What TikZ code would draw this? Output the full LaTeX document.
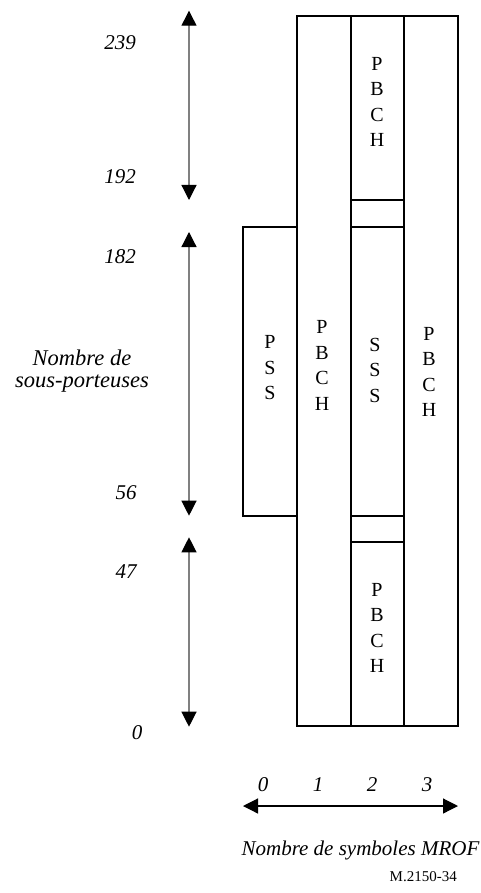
\documentclass[tikz,border=0pt]{standalone}
\usepackage{fontspec}
\setmainfont{Liberation Serif}
\usetikzlibrary{arrows.meta}

\begin{document}
\begin{tikzpicture}[x=1pt,y=-1pt,
  cell/.style={draw=black,line width=1.8pt,inner sep=0pt,outer sep=0pt,anchor=north west},
  tag/.style={font=\fontsize{20}{25.5}\selectfont,align=center,inner sep=0pt},
  val/.style={font=\fontsize{21}{22}\selectfont\itshape,align=center,inner sep=0pt},
  span/.style={draw=black!50,line width=1.2pt,{Triangle[length=15pt,width=15pt,color=black]}-{Triangle[length=15pt,width=15pt,color=black]}}]
\useasboundingbox (0,0) rectangle (481,893);
% cells of the four symbols
\node[cell,minimum width=54pt,minimum height=289pt] (pss) at (243,226.7) {};
\node[cell,minimum width=54pt,minimum height=710.3pt] (sym1) at (296.7,15.7) {};
\node[cell,minimum width=53.6pt,minimum height=184.3pt] (pbchtop) at (350.7,15.7) {};
\node[cell,minimum width=53.6pt,minimum height=26.7pt] (gaptop) at (350.7,200) {};
\node[cell,minimum width=53.6pt,minimum height=289pt] (sss) at (350.7,226.7) {};
\node[cell,minimum width=53.6pt,minimum height=26.6pt] (gapbot) at (350.7,515.7) {};
\node[cell,minimum width=53.6pt,minimum height=183.7pt] (pbchbot) at (350.7,542.3) {};
\node[cell,minimum width=54pt,minimum height=710.3pt] (sym3) at (404.3,15.7) {};
% stacked letters
\node[tag] (lpss) at (270,368) {P\\S\\S};
\node[tag] (lsym1) at (322,365.5) {P\\B\\C\\H};
\node[tag] (lpbchtop) at (377,102) {P\\B\\C\\H};
\node[tag] (lsss) at (375,370) {S\\S\\S};
\node[tag] (lpbchbot) at (377,628) {P\\B\\C\\H};
\node[tag] (lsym3) at (429,372) {P\\B\\C\\H};
% subcarrier axis
\coordinate (t239) at (189,10.7);
\coordinate (t192) at (189,200);
\coordinate (t182) at (189,232);
\coordinate (t56) at (189,515.7);
\coordinate (t47) at (189,537.3);
\coordinate (t0) at (189,726.7);
\draw[span] (t239) -- (t192);
\draw[span] (t182) -- (t56);
\draw[span] (t47) -- (t0);
\node[val] (n239) at (120,43) {239};
\node[val] (n192) at (120,177) {192};
\node[val] (n182) at (120,257) {182};
\node[val] (n56) at (126,493) {56};
\node[val] (n47) at (126,572) {47};
\node[val] (n0) at (137,733) {0};
\node[val,font=\fontsize{22.5}{22}\selectfont\itshape] (ylabel) at (82,371) {Nombre de\\sous-porteuses};
% symbol axis
\coordinate (s0) at (243,806);
\coordinate (s3) at (458,806);
\draw[span,draw=black] (s0) -- (s3);
\node[val] (m0) at (263,785) {0};
\node[val] (m1) at (318,785) {1};
\node[val] (m2) at (372,785) {2};
\node[val] (m3) at (427,785) {3};
\node[val] (xlabel) at (360.5,850) {Nombre de symboles MROF};
\node[font=\fontsize{15}{18}\selectfont,anchor=east,inner sep=0pt] (fig) at (457,877) {M.2150-34};
\end{tikzpicture}
\end{document}
